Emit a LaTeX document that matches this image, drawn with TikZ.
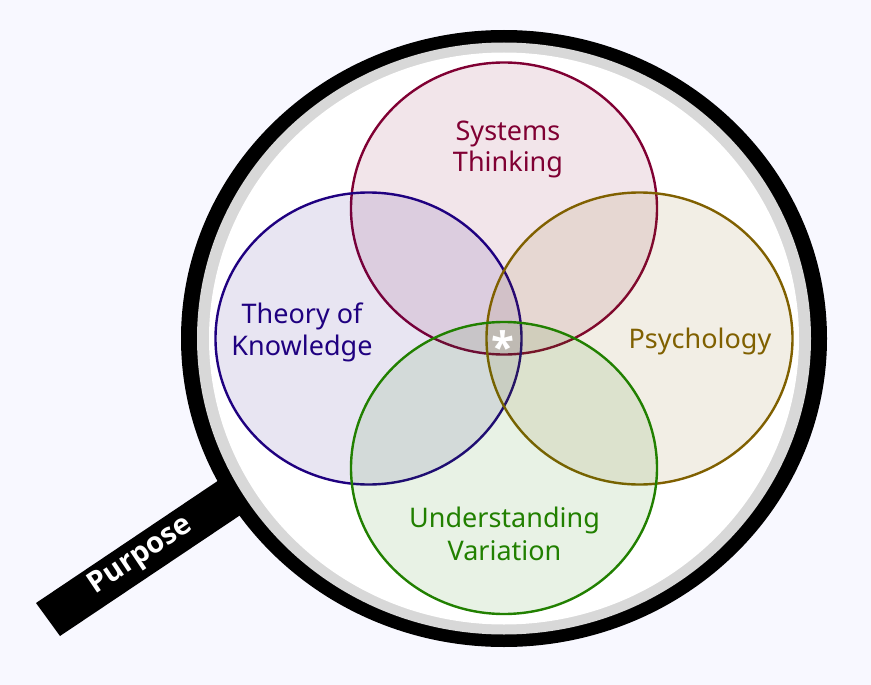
\documentclass[tikz,border=0pt]{standalone}
\usepackage{fontspec}
\setmainfont{Noto Sans}
\newfontfamily\pfont{Open Sans}[UprightFont=* Bold]
\usetikzlibrary{shapes.geometric}
\definecolor{bgc}{HTML}{F8F8FF}
\definecolor{ringgray}{HTML}{D8D8D8}
\definecolor{sysc}{HTML}{800033}
\definecolor{thec}{HTML}{1F0080}
\definecolor{psyc}{HTML}{806000}
\definecolor{undc}{HTML}{218000}
\tikzset{
  venn/.style={ellipse, minimum width=306pt, minimum height=292pt, inner sep=0pt, line width=2.4pt, fill=#1, fill opacity=0.1, draw=#1, draw opacity=1},
  lbl/.style={align=center, font=\fontsize{27}{31.5}\selectfont, text=#1, anchor=base, inner sep=0pt},
}
\begin{document}
\begin{tikzpicture}[x=1pt,y=-1pt]
\fill[bgc] (0,0) rectangle (871,685);
\useasboundingbox (0,0) rectangle (871,685);
% handle
\fill[black] (36,603) -- (60,636) -- (321,461) -- (298,427) -- cycle;
\node[rotate=33.8, text=white, font=\pfont\fontsize{29}{30}\selectfont, inner sep=0pt] (purpose) at (141,556) {Purpose};
% lens
\fill[black] (504,338.5) ellipse [x radius=323, y radius=308.5];
\fill[ringgray] (504,338.5) ellipse [x radius=307, y radius=296];
\fill[white] (504,338.5) ellipse [x radius=295, y radius=286];
% circles
\node[venn=sysc] (sys) at (504,208.5) {};
\node[venn=thec] (the) at (368.5,338.5) {};
\node[venn=psyc] (psy) at (639.5,338.5) {};
\node[venn=undc] (und) at (504,468) {};
% labels
\node[lbl=sysc] (tsys) at (508,171.7) {Systems\\Thinking};
\node[lbl=thec] (tthe) at (302,355) {Theory of\\Knowledge};
\node[lbl=psyc] (tpsy) at (700,348) {Psychology};
\node[lbl=undc, font=\fontsize{27}{33}\selectfont] (tund) at (504.5,560.7) {Understanding\\Variation};
\node[text=white, font=\pfont\fontsize{42}{42}\selectfont, anchor=base, inner sep=0pt] (star) at (503,362) {*};
\end{tikzpicture}
\end{document}
